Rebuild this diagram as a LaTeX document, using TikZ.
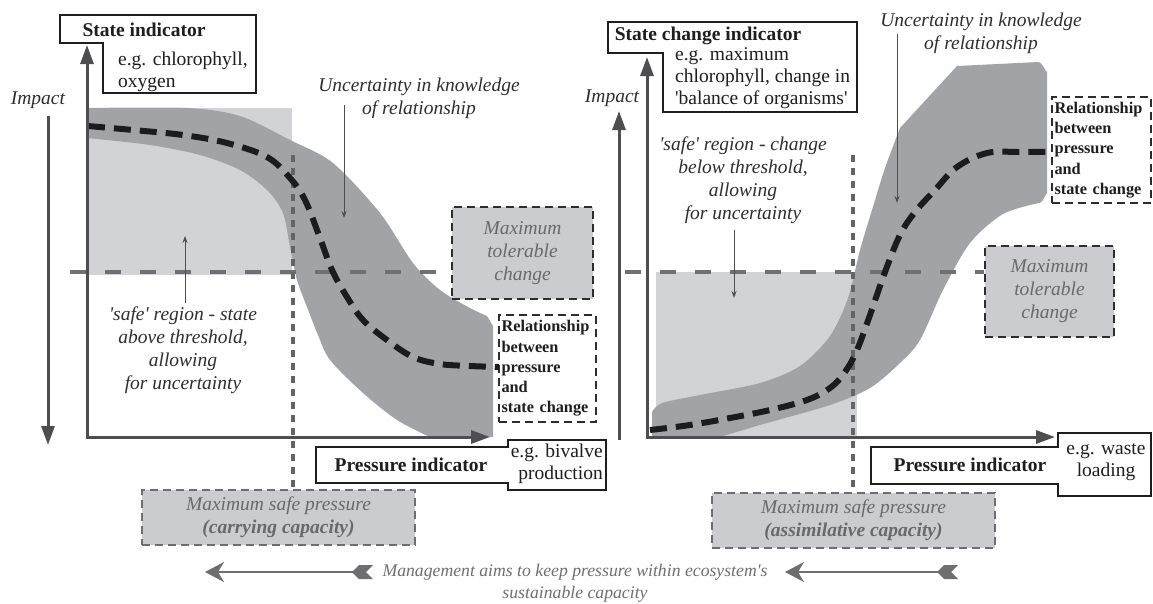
\documentclass[tikz,border=0pt]{standalone}
\usepackage{fontspec}
\setmainfont{Liberation Serif}
\usetikzlibrary{arrows.meta}
\definecolor{bandgray}{RGB}{162,163,167}
\definecolor{lightfill}{RGB}{209,211,214}
\definecolor{boxfill}{RGB}{203,204,207}
\definecolor{axisc}{RGB}{78,78,80}
\definecolor{threshc}{RGB}{112,112,114}
\definecolor{dotc}{RGB}{100,100,102}
\definecolor{curvec}{RGB}{28,28,30}
\definecolor{textgray}{RGB}{105,105,108}
\definecolor{inkc}{RGB}{30,30,30}
\definecolor{labc}{RGB}{45,45,47}
\definecolor{mgray}{RGB}{110,110,112}
\begin{document}
\begin{tikzpicture}[x=1pt,y=-1pt,
  axisarrow/.style={draw=axisc, line width=3pt, -{Triangle[length=19pt,width=13pt]}},
  axispair/.style={draw=axisc, line width=3pt, {Triangle[length=19pt,width=13pt]}-{Triangle[length=19pt,width=13pt]}},
  curveline/.style={draw=curvec, line width=6pt, dash pattern=on 17pt off 9pt},
  thresh/.style={draw=threshc, line width=4.5pt, dash pattern=on 16pt off 19pt},
  vdot/.style={draw=dotc, line width=4.5pt, dash pattern=on 7pt off 6pt},
  solidbox/.style={draw=inkc, line width=1.6pt, fill=white},
  dashbox/.style={draw=labc, line width=1.3pt, dash pattern=on 8pt off 5pt},
  graybox/.style={dashbox, fill=boxfill, text=textgray, align=center, inner sep=0pt,
     font=\fontsize{19.5}{23}\selectfont\itshape},
  safebox/.style={graybox, draw=mgray},
  relbox/.style={dashbox, fill=white, text=inkc, align=left, inner sep=2pt,
     font=\fontsize{16.3}{20.2}\selectfont\bfseries},
  pointer/.style={draw=axisc, line width=1pt, -{Stealth[length=7pt,width=5pt]}},
  mgmtarrow/.style={draw=mgray, line width=2pt, -{Stealth[length=19pt,width=20pt,inset=6pt]}},
  txt/.style={font=\fontsize{19.5}{22}\selectfont, text=inkc, inner sep=0pt},
  btxt/.style={font=\fontsize{19.5}{22}\selectfont\bfseries, text=inkc, inner sep=0pt},
  itxt/.style={font=\fontsize{19.5}{23}\selectfont\itshape, text=labc, inner sep=0pt, align=center},
  mtxt/.style={font=\fontsize{17.7}{22}\selectfont\itshape, text=mgray, inner sep=0pt, align=center}
]
\useasboundingbox (0,0) rectangle (1153,603);

%%%%%%%%%%%%%%%% LEFT PANEL %%%%%%%%%%%%%%%%
\fill[lightfill] (87,108) rectangle (292,275);
\fill[bandgray] plot[smooth, tension=0.5] coordinates {(87,108) (187,108) (240,116) (290,140) (333,163) (380,213) (413,263) (440,290) (470,308) (487,316)}
  -- (493,326) -- (493,437) -- (430,437)
  -- plot[smooth, tension=0.5] coordinates {(430,437) (397,420) (363,393) (330,360) (318,335) (307,307) (297,280) (290,247) (283,213) (267,190) (240,170) (200,155) (150,145) (87,138)} -- cycle;

\node[graybox, minimum width=141pt, minimum height=92pt] (mtl) at (522.5,253) {Maximum\\tolerable\\change};
\node[safebox, minimum width=273pt, minimum height=55pt] (msl) at (278.5,517.5) {Maximum safe pressure\\\textbf{(carrying capacity)}};
\node[relbox, minimum width=97pt, minimum height=107pt, text width=92pt] (rell) at (547.5,368.5) {Relationship\\between\\pressure\\and\\state change};

\coordinate (thL) at (70,272);
\draw[thresh] (thL) -- (thL -| mtl.west);
\coordinate (vL) at (293,155);
\draw[vdot] (vL) -- (vL |- msl.north);

\draw[curveline] plot[smooth, tension=0.6] coordinates {(88,126) (133,130) (183,135) (227,143) (267,157) (290,178) (305,200) (320,238) (332,270) (347,297) (363,320) (387,340) (413,357) (440,364) (470,366) (499,367)};

\coordinate (Lo) at (87,437);
\coordinate (Lx) at (490,437);
\coordinate (Ly) at (87,45);
\draw[axispair, line join=miter] (Ly) -- (Lo) -- (Lx);

\node[itxt] (impL) at (38,100) {Impact};
\coordinate (iLa) at (48,116);
\coordinate (iLb) at (48,445);
\draw[axisarrow] (iLa) -- (iLb);

\draw[solidbox] (60,15) -- (256,15) -- (256,93) -- (103,93) -- (103,43) -- (60,43) -- cycle;
\node[btxt] (sil) at (144,30) {State indicator};
\node[txt, anchor=west, align=left] (sexl) at (118,72) {e.g. chlorophyll,\\oxygen};

\draw[solidbox] (316,447) -- (508,447) -- (508,440) -- (606,440) -- (606,490) -- (508,490) -- (508,483) -- (316,483) -- cycle;
\node[btxt] (pil) at (411,465) {Pressure indicator};
\node[txt, anchor=east, align=right] (pexl) at (603,464) {e.g. bivalve\\production};

\node[itxt] (ukl) at (419,98) {Uncertainty in knowledge\\of relationship};
\coordinate (ukla) at (344,105);
\coordinate (uklb) at (344,218);
\draw[pointer] (ukla) -- (uklb);

\node[itxt] (sfl) at (183,350) {\textquotesingle safe\textquotesingle{} region - state\\above threshold,\\allowing\\for uncertainty};
\coordinate (sfla) at (185,303);
\coordinate (sflb) at (185,236);
\draw[pointer] (sfla) -- (sflb);

%%%%%%%%%%%%%%%% RIGHT PANEL %%%%%%%%%%%%%%%%
\fill[lightfill] (656,272) rectangle (857,437);
\fill[bandgray] plot[smooth, tension=0.5] coordinates {(652,412) (662,403) (700,395) (760,383) (800,366) (830,336) (848,298) (860,250) (872,210) (885,168) (900,128)}
  -- (957,66) -- (1038,62) to[out=0,in=-90] (1047,71) -- (1047,194) to[out=90,in=0] (1039,203)
  -- plot[smooth, tension=0.5] coordinates {(1039,203) (1003,214) (970,243) (943,290) (920,340) (900,363) (870,388) (830,405) (760,425) (720,437)}
  -- (652,437) -- cycle;

\node[graybox, minimum width=129pt, minimum height=91pt] (mtr) at (1049.5,291.5) {Maximum\\tolerable\\change};
\node[safebox, minimum width=283pt, minimum height=55pt] (msr) at (853.5,520.5) {Maximum safe pressure\\\textbf{(assimilative capacity)}};
\node[relbox, minimum width=99pt, minimum height=106pt, text width=94pt] (relr) at (1101.5,150) {Relationship\\between\\pressure\\and\\state change};

\coordinate (thR) at (625,272);
\draw[thresh] (thR) -- (thR -| mtr.west);
\coordinate (vR) at (853,155);
\draw[vdot] (vR) -- (vR |- msr.north);

\draw[curveline] plot[smooth, tension=0.6] coordinates {(650,430) (690,425) (730,418) (770,410) (807,400) (830,388) (845,372) (857,350) (870,315) (885,272) (900,235) (915,212) (935,190) (957,167) (987,153) (1020,152) (1052,152)};

\coordinate (Ro) at (647,437);
\coordinate (Rx) at (1055,437);
\coordinate (Ry) at (647,57);
\draw[axispair, line join=miter] (Ry) -- (Ro) -- (Rx);

\node[itxt] (impR) at (612,98) {Impact};
\coordinate (iRa) at (619,440);
\coordinate (iRb) at (619,111);
\draw[axisarrow] (iRa) -- (iRb);

\draw[solidbox] (608,22) -- (857,22) -- (857,112) -- (663,112) -- (663,53) -- (608,53) -- cycle;
\node[btxt] (scr) at (708,36) {State change indicator};
\node[txt, anchor=west, align=left] (sexr) at (675,78) {e.g. maximum\\chlorophyll, change in\\\textquotesingle balance of organisms\textquotesingle};

\draw[solidbox] (871,447) -- (1058,447) -- (1058,433) -- (1151,433) -- (1151,496) -- (1058,496) -- (1058,484) -- (871,484) -- cycle;
\node[btxt] (pir) at (970,465) {Pressure indicator};
\node[txt, align=center] (pexr) at (1106,462) {e.g. waste\\loading};

\node[itxt] (ukr) at (981,33) {Uncertainty in knowledge\\of relationship};
\coordinate (ukra) at (897,34);
\coordinate (ukrb) at (897,203);
\draw[pointer] (ukra) -- (ukrb);

\node[itxt] (sfr) at (743,180) {\textquotesingle safe\textquotesingle{} region - change\\below threshold,\\allowing\\for uncertainty};
\coordinate (sfra) at (734,230);
\coordinate (sfrb) at (734,298);
\draw[pointer] (sfra) -- (sfrb);

%%%%%%%%%%%%%%%% MANAGEMENT %%%%%%%%%%%%%%%%
\node[mtxt] (mg) at (575,583) {Management aims to keep pressure within ecosystem\textquotesingle s\\sustainable capacity};
\coordinate (mLa) at (360,572);
\coordinate (mLb) at (205,572);
\draw[mgmtarrow] (mLa) -- (mLb);
\fill[mgray, shift={(mLa)}] (-8,0) -- (-1,-7) -- (13,-7) -- (6,0) -- (13,7) -- (-1,7) -- cycle;
\coordinate (mRa) at (945,572);
\coordinate (mRb) at (785,572);
\draw[mgmtarrow] (mRa) -- (mRb);
\fill[mgray, shift={(mRa)}] (-8,0) -- (-1,-7) -- (13,-7) -- (6,0) -- (13,7) -- (-1,7) -- cycle;
\end{tikzpicture}
\end{document}
